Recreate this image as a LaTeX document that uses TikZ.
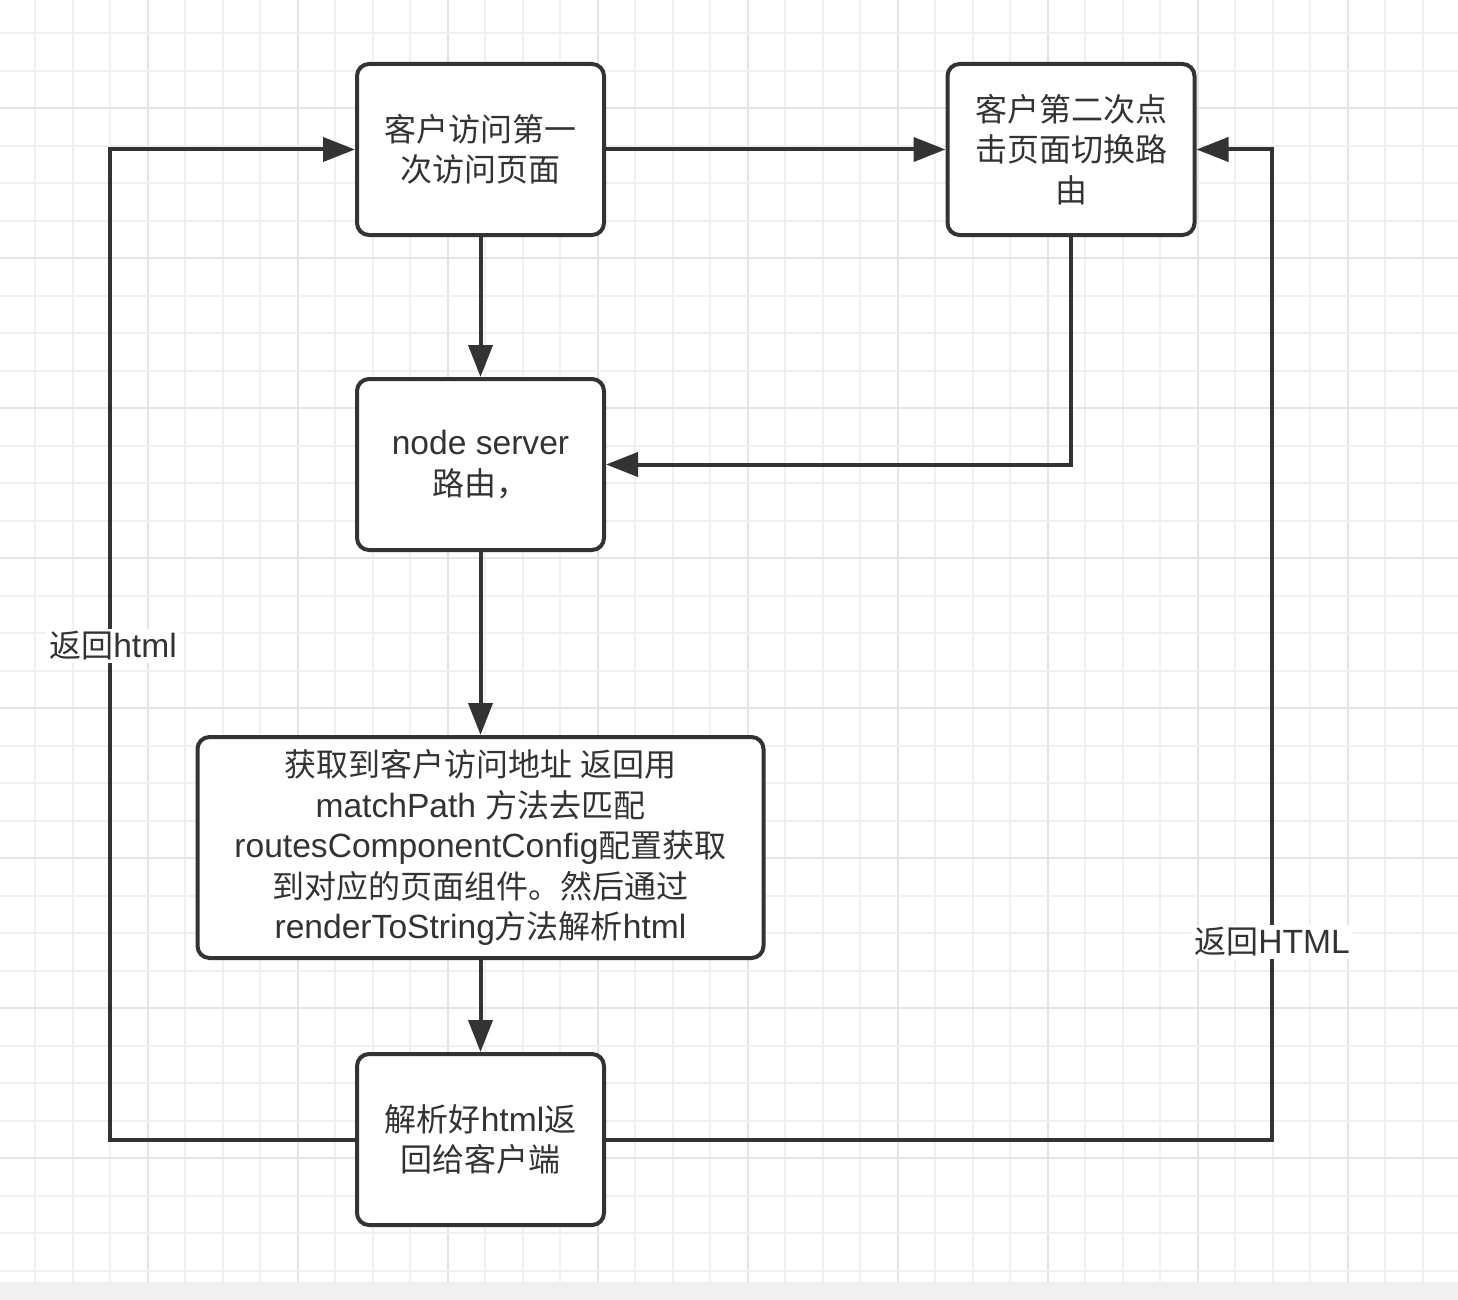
\documentclass[tikz,border=0pt]{standalone}
\usepackage{fontspec}
\setmainfont{Liberation Sans}[Scale=1.05]
\newfontfamily\cjk{Noto Sans CJK SC}
\newcommand\zh[1]{{\cjk #1}}
\usetikzlibrary{arrows.meta}
\definecolor{ink}{HTML}{333333}
\definecolor{gridminor}{HTML}{F0F0F0}
\definecolor{gridmajor}{HTML}{E4E4E4}
\definecolor{strip}{HTML}{F0F0F0}
\begin{document}
\begin{tikzpicture}[x=1pt,y=-1pt,
  box/.style={draw=ink, line width=4pt, rounded corners=12pt, fill=white, text=ink,
    align=center, font=\fontsize{32}{40.5}\selectfont, inner sep=0pt},
  conn/.style={draw=ink, line width=4pt, -{Triangle[length=32pt,width=24pt]}},
  lbl/.style={fill=white, text=ink, font=\fontsize{32}{40}\selectfont, inner sep=3pt}]
% background and grid
\useasboundingbox (0,0) rectangle (1458,1300);
\fill[white] (0,0) rectangle (1458,1282);
\foreach \k in {0,...,38}{
  \pgfmathsetmacro\xx{35+37.5*\k}
  \pgfmathtruncatemacro\mm{mod(\k,4)}
  \ifnum\mm=3
    \draw[gridmajor, line width=2pt] (\xx,0) -- (\xx,1282);
  \else
    \draw[gridminor, line width=2pt] (\xx,0) -- (\xx,1282);
  \fi
}
\foreach \k in {0,...,33}{
  \pgfmathsetmacro\yy{33.3+37.5*\k}
  \pgfmathtruncatemacro\mm{mod(\k,4)}
  \ifnum\mm=2
    \draw[gridmajor, line width=2pt] (0,\yy) -- (1458,\yy);
  \else
    \draw[gridminor, line width=2pt] (0,\yy) -- (1458,\yy);
  \fi
}
\fill[strip] (0,1282) rectangle (1458,1300);
% boxes
\node[box, minimum width=247pt, minimum height=171pt] (b1) at (480.5,149.5)
  {\zh{客户访问第一}\\\zh{次访问页面}};
\node[box, minimum width=247pt, minimum height=171pt] (b2) at (1071,149.5)
  {\zh{客户第二次点}\\\zh{击页面切换路}\\\zh{由}};
\node[box, minimum width=247pt, minimum height=171pt] (b3) at (480.5,464.5)
  {node server\\\zh{路由，}};
\node[box, minimum width=566pt, minimum height=221pt] (b4) at (480.5,847.5)
  {\zh{获取到客户访问地址 返回用}\\matchPath \zh{方法去匹配}\\routesComponentConfig\zh{配置获取}\\\zh{到对应的页面组件。然后通过}\\renderToString\zh{方法解析}html};
\node[box, minimum width=247pt, minimum height=171pt] (b5) at (480.5,1139.5)
  {\zh{解析好}html\zh{返}\\\zh{回给客户端}};
% connectors
\coordinate (cl) at (110,0);
\coordinate (cr) at (1271.5,0);
\draw[conn] (b1.east) -- (b2.west);
\draw[conn] (b1.south) -- (b3.north);
\draw[conn] (b2.south) |- (b3.east);
\draw[conn] (b3.south) -- (b4.north);
\draw[conn] (b4.south) -- (b5.north);
\draw[conn] (b5.west) -- (b5.west -| cl) -- (b1.west -| cl) -- (b1.west);
\draw[conn] (b5.east) -- (b5.east -| cr) -- (b2.east -| cr) -- (b2.east);
% labels
\node[lbl] (lL) at (113,646) {\zh{返回}html};
\node[lbl] (lR) at (1272,942) {\zh{返回}HTML};
\end{tikzpicture}
\end{document}
